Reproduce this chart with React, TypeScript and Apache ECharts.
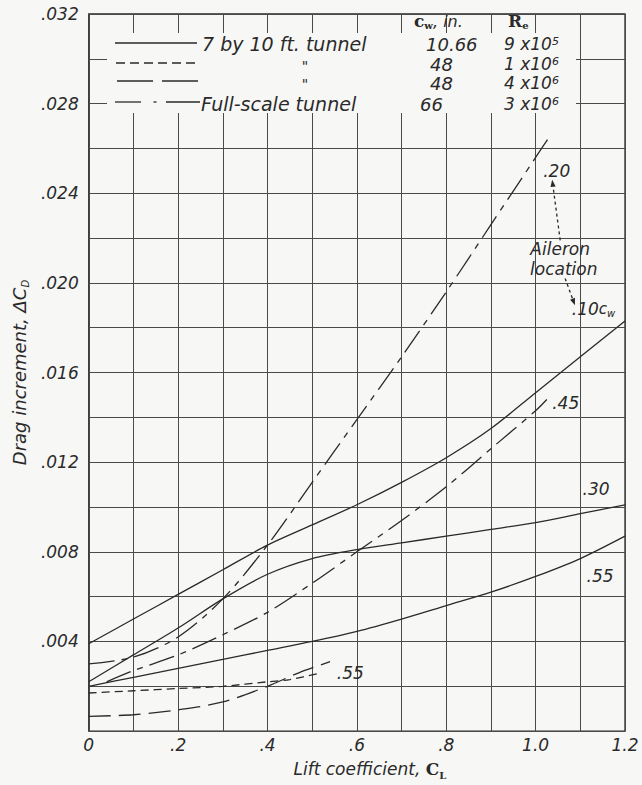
import React, { useEffect, useRef } from 'react';
import * as echarts from 'echarts';

const W = 642;
const H = 785;
const bg = '#f7f7f5';
const ink = '#2a2a2a';
const gridInk = '#4a4a4a';
const font = '"DejaVu Sans", sans-serif';
const serif = '"DejaVu Serif", serif';

// ---- data (lift coefficient C_L vs drag increment ΔC_D) ----
const liftCoef = [0, 0.1, 0.2, 0.3, 0.4, 0.5, 0.6, 0.7, 0.8, 0.9, 1.0, 1.1, 1.2];
// 7 by 10 ft tunnel (solid)
const solid10 = [0.0039, 0.005, 0.0061, 0.0072, 0.0083, 0.0092, 0.0101, 0.0111, 0.0122, 0.0135, 0.0151, 0.0167, 0.0183];
const solid30 = [0.0022, 0.0034, 0.0046, 0.0059, 0.007, 0.0077, 0.0081, 0.0084, 0.0087, 0.009, 0.0093, 0.0097, 0.0101];
const solid55 = [0.002, 0.0024, 0.0028, 0.0032, 0.0036, 0.004, 0.00445, 0.005, 0.0056, 0.0062, 0.0069, 0.0077, 0.0087];
// full-scale tunnel (dash-dot)
const fs20X = [0, 0.1, 0.2, 0.3, 0.4, 0.5, 0.6, 0.7, 0.8, 0.9, 1.0, 1.03];
const fs20Y = [0.003, 0.0033, 0.0042, 0.0059, 0.0083, 0.0111, 0.0139, 0.0167, 0.0196, 0.0226, 0.0256, 0.0265];
const fs45X = [0.04, 0.1, 0.2, 0.3, 0.4, 0.5, 0.6, 0.7, 0.8, 0.9, 1.0, 1.025];
const fs45Y = [0.0022, 0.0027, 0.0034, 0.0043, 0.0053, 0.0066, 0.008, 0.0094, 0.0109, 0.0126, 0.0143, 0.0148];
// 48 in., 1x10^6 (short dash)
const short55X = [0, 0.1, 0.2, 0.3, 0.4, 0.45, 0.52];
const short55Y = [0.0017, 0.0018, 0.0019, 0.002, 0.0022, 0.0023, 0.0026];
// 48 in., 4x10^6 (long dash)
const long55X = [0, 0.1, 0.2, 0.3, 0.4, 0.47, 0.54];
const long55Y = [0.00066, 0.00073, 0.00095, 0.0013, 0.002, 0.0026, 0.0031];

const xTickLabels = ['0', '.2', '.4', '.6', '.8', '1.0', '1.2'];
const yTickLabels = ['', '.004', '.008', '.012', '.016', '.020', '.024', '.028', '.032'];

// curve annotations in data coordinates
const curveLabels = [
  { x: 1.017, y: 0.025, text: '.20' },
  { x: 1.037, y: 0.01465, text: '.45' },
  { x: 1.105, y: 0.0108, text: '.30' },
  { x: 1.114, y: 0.0069, text: '.55' },
  { x: 0.555, y: 0.0026, text: '.55' },
];

const SHORT = [8, 5];
const LONG = [22, 8];
const DASHDOT = [26, 7, 6, 7];

function mk(name: string, xs: number[], ys: number[], dash: any) {
  return {
    type: 'line',
    name,
    data: xs.map((x, i) => [x, ys[i]]),
    showSymbol: false,
    symbol: 'none',
    smooth: 0.3,
    silent: true,
    z: 3,
    lineStyle: { color: ink, width: 1.3, type: dash },
  };
}

function buildOption() {
  return {
    animation: false,
    backgroundColor: bg,
    grid: {
      left: 80,
      right: 17,
      top: 14,
      bottom: 46,
      show: true,
      borderColor: ink,
      borderWidth: 1.3,
      backgroundColor: 'transparent',
    },
    xAxis: {
      type: 'value',
      min: 0,
      max: 1.2,
      interval: 0.1,
      axisLine: { show: false },
      axisTick: { show: false },
      splitLine: { show: true, lineStyle: { color: gridInk, width: 1 } },
      axisLabel: {
        color: ink,
        fontSize: 17,
        fontStyle: 'italic',
        fontFamily: font,
        margin: 5,
        showMinLabel: true,
        showMaxLabel: true,
        formatter: (v: number) => {
          const r = Math.round(v * 10);
          return r % 2 === 0 ? xTickLabels[r / 2] : '';
        },
      },
      name: 'Lift coefficient, {c|C}{l|L}',
      nameLocation: 'middle',
      nameGap: 18,
      nameTextStyle: {
        color: ink,
        fontSize: 17,
        fontStyle: 'italic',
        fontFamily: font,
        lineHeight: 22,
        padding: [0, 0, 0, 26],
        rich: {
          c: { fontFamily: serif, fontWeight: 'bold', fontStyle: 'normal', fontSize: 17, lineHeight: 22, color: ink },
          l: { fontFamily: serif, fontWeight: 'bold', fontStyle: 'normal', fontSize: 10, lineHeight: 12, verticalAlign: 'bottom', color: ink },
        },
      },
    },
    yAxis: {
      type: 'value',
      min: 0,
      max: 0.032,
      interval: 0.002,
      axisLine: { show: false },
      axisTick: { show: false },
      splitLine: { show: true, lineStyle: { color: gridInk, width: 1 } },
      axisLabel: {
        color: ink,
        fontSize: 17,
        fontStyle: 'italic',
        fontFamily: font,
        margin: 10,
        showMinLabel: true,
        showMaxLabel: true,
        formatter: (v: number) => {
          const r = Math.round(v * 1000);
          return r % 4 === 0 ? yTickLabels[r / 4] : '';
        },
      },
      name: 'Drag increment, \u0394C{d|D}',
      nameLocation: 'middle',
      nameGap: 52,
      nameTextStyle: {
        color: ink,
        fontSize: 18,
        fontStyle: 'italic',
        fontFamily: font,
        lineHeight: 22,
        rich: {
          d: { fontFamily: font, fontStyle: 'italic', fontSize: 10, lineHeight: 12, verticalAlign: 'bottom', color: ink },
        },
      },
    },
    series: [
      mk('7x10 .10cw', liftCoef, solid10, 'solid'),
      mk('7x10 .30', liftCoef, solid30, 'solid'),
      mk('7x10 .55', liftCoef, solid55, 'solid'),
      mk('Full-scale .20', fs20X, fs20Y, DASHDOT),
      mk('Full-scale .45', fs45X, fs45Y, DASHDOT),
      mk('48 in 1x10^6 .55', short55X, short55Y, SHORT),
      mk('48 in 4x10^6 .55', long55X, long55Y, LONG),
    ],
  };
}

const tfont = (size: number) => `italic ${size}px ${font}`;

function txt(text: string, x: number, y: number, size = 17, align = 'left', rich?: any) {
  return {
    type: 'text',
    z: 20,
    silent: true,
    style: {
      text,
      x,
      y,
      font: tfont(size),
      fill: ink,
      align,
      textAlign: align,
      verticalAlign: 'middle',
      textVerticalAlign: 'middle',
      rich,
    },
  };
}

function seg(x1: number, y1: number, x2: number, y2: number, dash?: number[]) {
  return {
    type: 'line',
    z: 20,
    silent: true,
    shape: { x1, y1, x2, y2 },
    style: { stroke: ink, lineWidth: 1.3, lineDash: dash || null },
  };
}

function arrow(p0: number[], p1: number[]) {
  const dx = p1[0] - p0[0];
  const dy = p1[1] - p0[1];
  const L = Math.sqrt(dx * dx + dy * dy);
  const ux = dx / L;
  const uy = dy / L;
  const hl = 7;
  const hw = 2.6;
  const bx = p1[0] - ux * hl;
  const by = p1[1] - uy * hl;
  return [
    seg(p0[0], p0[1], bx, by, [3, 3]),
    {
      type: 'polygon',
      z: 20,
      silent: true,
      shape: { points: [[p1[0], p1[1]], [bx - uy * hw, by + ux * hw], [bx + uy * hw, by - ux * hw]] },
      style: { fill: ink },
    },
  ];
}

function buildGraphic(px: (x: number, y: number) => number[]) {
  const sup = { s: { font: tfont(11), fill: ink, verticalAlign: 'top', lineHeight: 12 } };
  const els: any[] = [];
  // legend panel
  els.push({ type: 'rect', z: 10, silent: true, shape: { x: 107, y: 33, width: 469, height: 80 }, style: { fill: bg } });
  els.push(seg(115, 43, 197, 43));
  els.push(seg(116, 63, 198, 63, [9, 5]));
  els.push(seg(117, 81, 153, 81));
  els.push(seg(162, 81, 198, 81));
  els.push(seg(115, 102, 141, 102));
  els.push(seg(153.5, 102, 156.5, 102));
  els.push(seg(166, 102, 200, 102));
  els.push(txt('7 by 10 ft. tunnel', 202, 44, 19));
  els.push(txt('"', 305, 66, 14, 'center'));
  els.push(txt('"', 305, 84, 14, 'center'));
  els.push(txt('Full-scale tunnel', 201, 104, 19));
  els.push(
    txt('{c|c}{w|w}, in.', 414, 21, 16, 'left', {
      c: { font: `bold 17px ${serif}`, fill: ink, lineHeight: 18 },
      w: { font: `bold 10px ${serif}`, fill: ink, verticalAlign: 'bottom', lineHeight: 11 },
    })
  );
  els.push(
    txt('{r|R}{e|e}', 508, 21, 16, 'left', {
      r: { font: `bold 17px ${serif}`, fill: ink, lineHeight: 18 },
      e: { font: `bold 10px ${serif}`, fill: ink, verticalAlign: 'bottom', lineHeight: 11 },
    })
  );
  els.push(txt('10.66', 426, 44, 18));
  els.push(txt('48', 430, 64, 18));
  els.push(txt('48', 430, 83, 18));
  els.push(txt('66', 420, 104, 18));
  els.push(txt('9 x10{s|5}', 504, 44, 17, 'left', sup));
  els.push(txt('1 x10{s|6}', 504, 64, 17, 'left', sup));
  els.push(txt('4 x10{s|6}', 504, 83, 17, 'left', sup));
  els.push(txt('3 x10{s|6}', 504, 104, 17, 'left', sup));

  // curve labels
  for (const c of curveLabels) {
    const p = px(c.x, c.y);
    els.push(txt(c.text, p[0], p[1], 17));
  }
  // ".10 c_w"
  const p10 = px(1.081, 0.01885);
  els.push(
    txt('.10{c|c}{w|w}', p10[0], p10[1], 17, 'left', {
      c: { font: tfont(15), fill: ink, lineHeight: 20 },
      w: { font: tfont(10), fill: ink, verticalAlign: 'bottom', lineHeight: 12 },
    })
  );
  // Aileron location
  const pa = px(1.055, 0.0215);
  els.push(txt('Aileron', pa[0], pa[1], 17, 'center'));
  const pl = px(1.063, 0.0206);
  els.push(txt('location', pl[0], pl[1], 17, 'center'));
  // arrows
  arrow(px(1.055, 0.0219), px(1.037, 0.0246)).forEach((e) => els.push(e));
  arrow(px(1.066, 0.0202), px(1.088, 0.019)).forEach((e) => els.push(e));
  return els;
}

export default function App() {
  const ref = useRef<HTMLDivElement>(null);
  useEffect(() => {
    const el = ref.current as HTMLDivElement;
    const chart = echarts.init(el, undefined, { renderer: 'svg', width: W, height: H });
    chart.setOption(buildOption() as any);
    const px = (x: number, y: number) => chart.convertToPixel({ gridIndex: 0 } as any, [x, y]) as number[];
    chart.setOption({ graphic: buildGraphic(px) } as any);
    return () => chart.dispose();
  }, []);
  return <div ref={ref} style={{ position: 'fixed', left: 0, top: 0, width: W, height: H, background: bg }} />;
}
